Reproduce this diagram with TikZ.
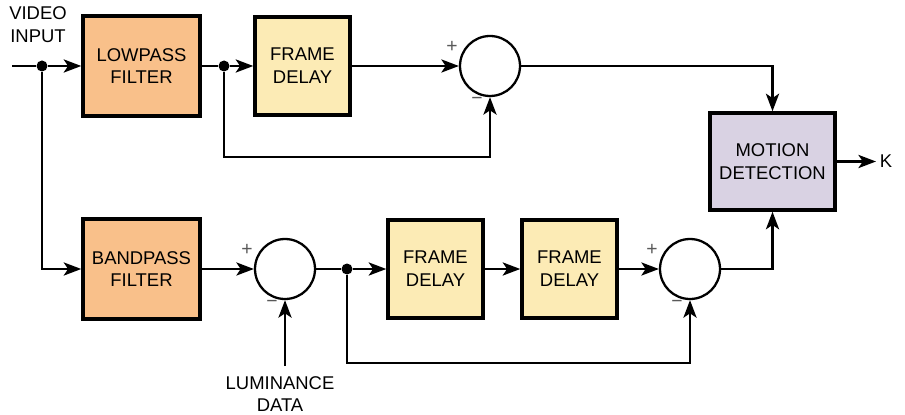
\documentclass[tikz,border=0pt]{standalone}
\usepackage{fontspec}
\setmainfont{Liberation Sans}
\usetikzlibrary{arrows.meta}
\definecolor{lpfill}{RGB}{249,192,138}
\definecolor{fdfill}{RGB}{252,235,181}
\definecolor{mdfill}{RGB}{217,210,227}
\tikzset{
	blk/.style={draw,line width=2pt,align=center,font=\fontsize{10.5}{13}\selectfont,inner sep=0pt},
	filt/.style={blk,fill=lpfill,minimum width=2.34cm,minimum height=2cm},
	fdel/.style={blk,fill=fdfill,minimum width=1.9cm,minimum height=1.96cm},
	summer/.style={draw,circle,line width=1.3pt,minimum size=1.2cm,inner sep=0pt},
	sgn/.style={font=\fontsize{11}{11}\selectfont,text=black!65,inner sep=0pt},
	lbl/.style={align=center,font=\fontsize{10.5}{13}\selectfont},
	jn/.style={circle,fill,inner sep=0pt,minimum size=0.22cm},
	wire/.style={line width=1.3pt},
	arr/.style={wire,-{Stealth[length=10pt,width=7.5pt,inset=2.5pt]}}
}
\begin{document}
\begin{tikzpicture}[x=0.02cm,y=-0.02cm]
	\useasboundingbox (0,0) rectangle (905,415);
	\node[filt] (lpf) at (141.5,66) {LOWPASS\\FILTER};
	\node[fdel] (fd1) at (302.5,66) {FRAME\\DELAY};
	\node[summer] (s1) at (490,66) {};
	\node[blk,fill=mdfill,minimum width=2.5cm,minimum height=1.94cm] (md) at (772.5,161.5) {MOTION\\DETECTION};
	\node[filt] (bpf) at (141.5,269) {BANDPASS\\FILTER};
	\node[summer] (s2) at (285,269) {};
	\node[fdel] (fd2) at (435.5,269) {FRAME\\DELAY};
	\node[fdel] (fd3) at (569.5,269) {FRAME\\DELAY};
	\node[summer] (s3) at (690,269) {};
	\node[lbl] (vin) at (38,25) {VIDEO\\INPUT};
	\node[lbl] (lum) at (280,394) {LUMINANCE\\DATA};
	\node[lbl,inner sep=2pt] (k) at (886,161.5) {K};
	\node[jn] (j1) at (42,66) {};
	\node[jn] (j2) at (224,66) {};
	\node[jn] (j3) at (347,269) {};
	\coordinate (in) at (12,66);
	\coordinate (lumin) at (285,366);
	\foreach \s in {s1,s2,s3} {
		\node[sgn] (p\s) at ([shift={(-38,-19)}]\s.center) {+};
		\node[sgn] (m\s) at ([shift={(-13,35)}]\s.center) {−};
	};
	\draw[wire] (in) -- (j1);
	\draw[arr] (j1) -- (lpf);
	\draw[wire] (lpf) -- (j2);
	\draw[arr] (j2) -- (fd1);
	\draw[arr] (fd1) -- (s1);
	\draw[arr] (s1.east) -| (md.north);
	\draw[arr] (j2) -- ++(0,91) -| (s1.south);
	\draw[arr] (j1) |- (bpf.west);
	\draw[arr] (bpf) -- (s2);
	\draw[arr] (lumin) -- (s2.south);
	\draw[wire] (s2) -- (j3);
	\draw[arr] (j3) -- (fd2);
	\draw[arr] (fd2) -- (fd3);
	\draw[arr] (fd3) -- (s3);
	\draw[arr] (s3.east) -| (md.south);
	\draw[arr] (j3) -- ++(0,94) -| (s3.south);
	\draw[arr] (md.east) -- (k.west);
\end{tikzpicture}
\end{document}
